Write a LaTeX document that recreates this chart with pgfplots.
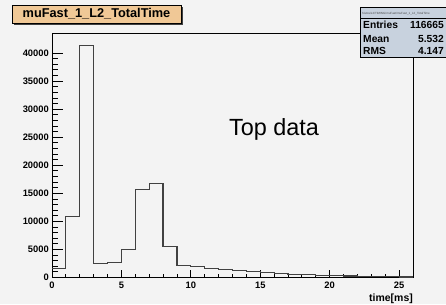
\documentclass[border=0pt]{standalone}
\usepackage{pgfplots}
\pgfplotsset{compat=1.18}
\usepackage{fontspec}
\setmainfont{Liberation Sans}
\definecolor{bg}{RGB}{243,243,243}
\definecolor{titlefill}{RGB}{240,200,150}
\definecolor{statfill}{RGB}{200,210,222}
\definecolor{histline}{RGB}{65,65,65}
\begin{document}
\begin{tikzpicture}[x=1bp,y=1bp]
\clip (0,0) rectangle (446,304);
\fill[bg] (0,0) rectangle (446,304);
\begin{axis}[
  at={(52bp,26.5bp)}, anchor=south west, scale only axis,
  width=361bp, height=243.5bp,
  xmin=0, xmax=26, ymin=0, ymax=43400,
  axis line style={line width=1bp},
  tick align=inside, xtick pos=left, ytick pos=left,
  xtick={0,5,...,25}, minor x tick num=4,
  ytick={0,5000,...,40000}, minor y tick num=4,
  major tick length=11bp, minor tick length=5.5bp,
  x tick style={/pgfplots/major tick length=8bp, /pgfplots/minor tick length=4bp},
  tick style={black, line width=0.9bp},
  scaled y ticks=false,
  /pgf/number format/assume math mode=true,
  /pgf/number format/set thousands separator={},
  ticklabel style={font=\bfseries\fontsize{9.4}{10}\selectfont},
  xticklabel style={inner sep=0pt, yshift=-4bp},
  yticklabel style={inner sep=0pt, xshift=-3bp},
  xlabel={time[ms]},
  x label style={at={(axis description cs:1,0)}, anchor=base east, yshift=-23.5bp, inner sep=0pt, font=\bfseries\fontsize{10.5}{12}\selectfont},
]
\addplot[const plot, histline, line width=1.2bp] coordinates {
(0,1600) (1,10900) (2,41300) (3,2550) (4,2700) (5,5050) (6,15750) (7,16700)
(8,5580) (9,2140) (10,1900) (11,1600) (12,1430) (13,1190) (14,1000) (15,830)
(16,710) (17,580) (18,480) (19,400) (20,320) (21,260) (22,200) (23,150)
(24,110) (25,80) (26,80)
};
\end{axis}
% Top data annotation
\node[anchor=base west, inner sep=0pt, font=\fontsize{23.5}{26}\selectfont] at (229,169) {Top data};
% title box
\fill[black!75] (14,279) rectangle (183,297);
\filldraw[fill=titlefill, draw=black, line width=0.9bp] (12,281) rectangle (181,299);
\node[inner sep=0pt, font=\bfseries\fontsize{12.8}{14}\selectfont] at (96.5,290) {muFast\_1\_L2\_TotalTime};
% stats box
\filldraw[fill=statfill, draw=black, line width=0.9bp] (360,247) rectangle (448,297);
\draw[black, line width=0.6bp] (360,286) -- (448,286);
\node[anchor=base west, inner sep=0pt, font=\fontsize{3}{4}\selectfont, text=black!70] at (362,290) {histos/L2/TIMING/muFast/muFast\_1\_L2\_TotalTime};
\node[anchor=base west, inner sep=0pt, font=\bfseries\fontsize{10.3}{12}\selectfont] at (363,275.5) {Entries};
\node[anchor=base east, inner sep=0pt, font=\bfseries\fontsize{10.3}{12}\selectfont] at (444,275.5) {116665};
\node[anchor=base west, inner sep=0pt, font=\bfseries\fontsize{10.3}{12}\selectfont] at (363,262) {Mean};
\node[anchor=base east, inner sep=0pt, font=\bfseries\fontsize{10.3}{12}\selectfont] at (444,262) {5.532};
\node[anchor=base west, inner sep=0pt, font=\bfseries\fontsize{10.3}{12}\selectfont] at (363,250) {RMS};
\node[anchor=base east, inner sep=0pt, font=\bfseries\fontsize{10.3}{12}\selectfont] at (444,250) {4.147};
\end{tikzpicture}
\end{document}
